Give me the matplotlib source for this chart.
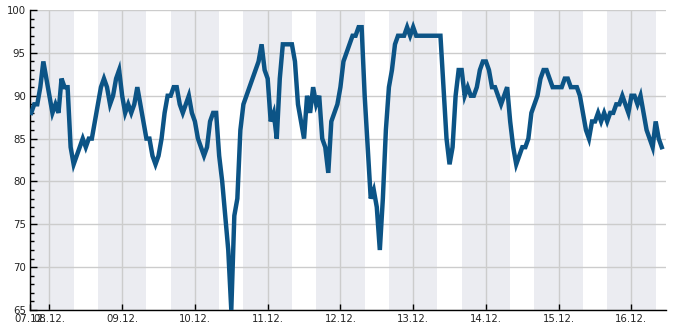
import numpy as np
import pandas as pd
import matplotlib
matplotlib.use("Agg")
import matplotlib.pyplot as plt
import matplotlib.dates as mdates

# hourly humidity readings, starting 07.12. 18:00
start = pd.Timestamp("2019-12-07 18:00")
humidity = [
    88, 89, 89, 91, 94, 92,                                   # 07.12. evening
    90, 88, 89, 88, 92, 91, 91, 84, 82, 83, 84, 85, 84, 85,   # 08.12.
    85, 87, 89, 91, 92, 91, 89, 90, 92, 93,
    90, 88, 89, 88, 89, 91, 89, 87, 85, 85, 83, 82, 83, 85,   # 09.12.
    88, 90, 90, 91, 91, 89, 88, 89, 90, 88,
    87, 85, 84, 83, 84, 87, 88, 88, 83, 80, 76, 72, 65, 76,   # 10.12.
    78, 86, 89, 90, 91, 92, 93, 94, 96, 93,
    92, 87, 88, 85, 92, 96, 96, 96, 96, 94, 89, 87, 85, 90,   # 11.12.
    88, 91, 89, 90, 85, 84, 81, 87, 88, 89,
    91, 94, 95, 96, 97, 97, 98, 98, 90, 84, 78, 79, 77, 72,   # 12.12.
    78, 86, 91, 93, 96, 97, 97, 97, 98, 97,
    98, 97, 97, 97, 97, 97, 97, 97, 97, 97, 91, 85, 82, 84,   # 13.12.
    90, 93, 93, 90, 91, 90, 90, 91, 93, 94,
    94, 93, 91, 91, 90, 89, 90, 91, 87, 84, 82, 83, 84, 84,   # 14.12.
    85, 88, 89, 90, 92, 93, 93, 92, 91, 91,
    91, 91, 92, 92, 91, 91, 91, 90, 88, 86, 85, 87, 87, 88,   # 15.12.
    87, 88, 87, 88, 88, 89, 89, 90, 89, 88,
    90, 90, 89, 90, 88, 86, 85, 84, 87, 85, 84,               # 16.12.
]
times = pd.date_range(start, periods=len(humidity), freq="h")

x_start = pd.Timestamp("2019-12-07 17:36")
x_end = pd.Timestamp("2019-12-16 11:18")
day_ticks = pd.date_range("2019-12-08", "2019-12-16", freq="D")
night_starts = pd.date_range("2019-12-07 16:00", "2019-12-16 16:00", freq="D")

fig = plt.figure(figsize=(6.85, 3.3), dpi=100)
ax = fig.add_axes([0.0438, 0.0606, 0.928, 0.909])

# night shading 16:00 - 08:00
for ns in night_starts:
    ax.axvspan(ns, ns + pd.Timedelta(hours=16), color="#ebecf1", lw=0, zorder=0)

ax.plot(times, humidity, color="#0c5486", lw=3.2, solid_joinstyle="miter", zorder=3)

ax.set_xlim(x_start, x_end)
ax.set_ylim(65, 100)

ticks = [x_start] + list(day_ticks)
ax.set_xticks(ticks)
ax.set_xticklabels(["07.12."] + [d.strftime("%d.%m.") for d in day_ticks])
ax.set_yticks(np.arange(65, 101, 5))
ax.set_yticks(np.arange(65, 101, 1), minor=True)

ax.grid(True, which="major", color="#cccccc", lw=1)
ax.set_axisbelow(True)
ax.tick_params(axis="both", which="major", direction="in", length=5, width=1,
               labelsize=7.3, labelcolor="#222222", pad=3)
ax.tick_params(axis="y", which="minor", direction="in", length=3, width=1)
ax.tick_params(axis="x", length=4)

for s in ["top", "right"]:
    ax.spines[s].set_visible(False)
for s in ["left", "bottom"]:
    ax.spines[s].set_color("black")
    ax.spines[s].set_linewidth(1)

fig.savefig("out.png", dpi=100)
